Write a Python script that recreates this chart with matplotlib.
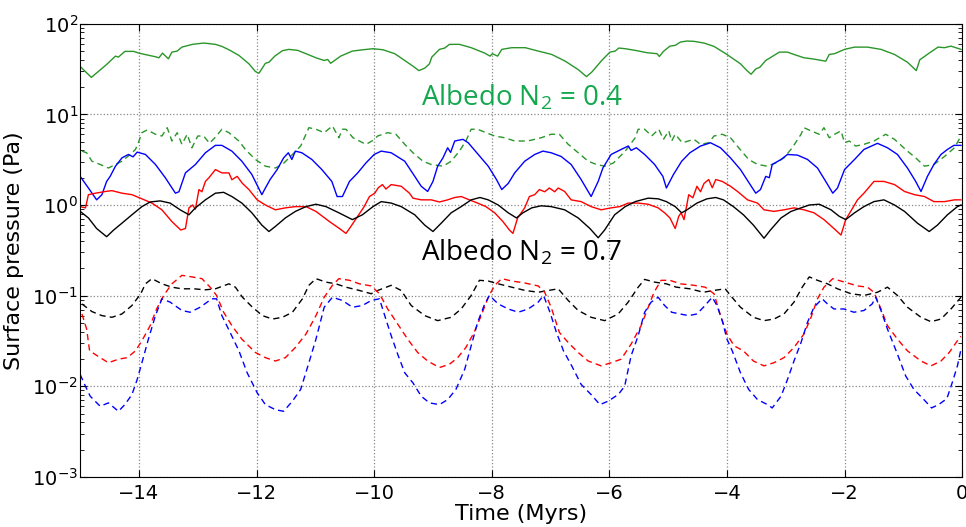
import matplotlib
matplotlib.use('Agg')
import matplotlib.pyplot as plt
from matplotlib.ticker import LogLocator

# Albedo N2 = 0.4 (upper set)
t_green_solid = [-15.0, -14.81, -14.57, -14.40, -14.35, -14.24, -14.09, -14.0, -13.9, -13.72, -13.66, -13.60,
                 -13.50, -13.44, -13.35, -13.27, -13.09, -12.90, -12.70, -12.59, -12.47, -12.30, -12.13, -12.02,
                 -11.96, -11.85, -11.79, -11.69, -11.56, -11.45, -11.30, -11.16, -10.99, -10.85, -10.79, -10.74,
                 -10.57, -10.37, -10.19, -10.02, -9.85, -9.65, -9.48, -9.34, -9.24, -9.14, -9.06, -9.02, -8.89,
                 -8.80, -8.72, -8.55, -8.35, -8.12, -8.03, -7.99, -7.90, -7.83, -7.66, -7.43, -7.21, -6.98, -6.75,
                 -6.53, -6.39, -6.30, -6.13, -5.99, -5.90, -5.84, -5.73, -5.56, -5.36, -5.19, -5.15, -5.08, -4.97,
                 -4.88, -4.79, -4.68, -4.56, -4.39, -4.22, -4.0, -3.77, -3.66, -3.59, -3.51, -3.44, -3.34, -3.20,
                 -3.11, -2.97, -2.86, -2.69, -2.52, -2.32, -2.26, -2.17, -2.0, -1.83, -1.61, -1.38, -1.15, -0.93,
                 -0.78, -0.72, -0.55, -0.41, -0.30, -0.19, -0.02]
p_green_solid = [33.7, 25.6, 34.6, 43.9, 42.8, 49.5, 49.5, 47.4, 45.8, 43.2, 42.1, 47.4,
                 41.0, 48.6, 49.9, 55.2, 59.2, 61.2, 59.2, 56.2, 51.6, 44.7, 36.1, 29.7,
                 28.4, 36.6, 37.6, 43.9, 50.4, 52.1, 50.8, 46.7, 42.1, 39.3, 40.3, 36.6,
                 43.9, 49.9, 51.6, 53.0, 51.6, 46.7, 39.3, 34.0, 30.4, 32.3, 36.1, 42.8, 52.1,
                 53.9, 59.2, 59.2, 54.4, 47.4, 43.9, 46.7, 43.9, 52.1, 54.4, 54.4, 49.9, 45.8, 38.6,
                 31.2, 26.1, 29.2, 39.3, 48.6, 49.9, 53.9, 53.0, 50.8, 47.9, 46.7, 43.5, 49.5, 56.6,
                 57.7, 62.8, 64.4, 63.9, 61.2, 56.2, 45.8, 36.1, 30.4, 27.7, 31.7, 33.1, 39.3, 44.7,
                 48.6, 48.6, 45.8, 42.1, 40.7, 38.6, 45.8, 46.7, 52.1, 55.2, 55.2, 52.1, 45.8, 37.6,
                 30.4, 40.0, 47.9, 55.2, 54.4, 56.6, 52.1]

t_green_dash = [-14.97, -14.89, -14.80, -14.66, -14.52, -14.40, -14.29, -14.15, -14.06, -14.0, -13.95, -13.86,
                -13.72, -13.61, -13.52, -13.44, -13.35, -13.27, -13.18, -13.10, -13.00, -12.90, -12.80, -12.70,
                -12.59, -12.47, -12.30, -12.19, -12.02, -11.85, -11.68, -11.56, -11.39, -11.25, -11.11, -10.99,
                -10.85, -10.71, -10.60, -10.54, -10.48, -10.36, -10.14, -10.02, -9.94, -9.77, -9.63, -9.48,
                -9.34, -9.17, -9.03, -8.83, -8.69, -8.55, -8.44, -8.35, -8.24, -8.10, -7.95, -7.78, -7.61,
                -7.39, -7.16, -6.99, -6.85, -6.70, -6.53, -6.36, -6.22, -6.08, -5.93, -5.73, -5.56, -5.51,
                -5.40, -5.28, -5.16, -5.08, -4.99, -4.94, -4.88, -4.76, -4.56, -4.45, -4.31, -4.22, -4.08,
                -3.94, -3.80, -3.63, -3.48, -3.31, -3.17, -3.03, -2.89, -2.74, -2.69, -2.57, -2.43, -2.35,
                -2.26, -2.17, -2.06, -2.00, -1.92, -1.81, -1.67, -1.50, -1.30, -1.15, -0.93, -0.79, -0.64,
                -0.48, -0.30, -0.13, -0.02]
p_green_dash = [3.93, 3.77, 3.04, 2.80, 2.56, 2.80, 3.04, 3.61, 4.10, 5.08, 6.28, 6.73,
                6.03, 5.77, 7.13, 5.08, 6.28, 4.67, 6.03, 4.28, 5.77, 5.77, 4.80, 5.6,
                6.85, 6.28, 5.08, 4.10, 3.18, 2.68, 2.56, 2.80, 3.61, 4.47, 7.13, 6.85,
                6.28, 7.45, 5.52, 6.85, 6.85, 5.52, 4.67, 5.16, 5.77, 6.28, 6.03, 4.67,
                3.77, 3.04, 2.80, 2.68, 3.04, 3.93, 5.08, 6.85, 6.85, 6.28, 5.77, 5.52, 5.08,
                5.08, 5.52, 6.03, 6.03, 4.67, 3.77, 3.04, 2.80, 2.68, 2.91, 3.93, 5.52, 6.85,
                6.85, 5.77, 6.85, 5.30, 6.57, 5.08, 6.03, 4.86, 5.30, 4.67, 4.86, 5.77, 6.03,
                5.52, 4.28, 3.18, 2.80, 2.68, 2.91, 3.31, 4.28, 6.03, 7.13, 6.57, 6.03, 7.13,
                5.52, 6.03, 6.57, 4.86, 5.08, 4.47, 4.67, 5.08, 6.03, 5.30, 3.93, 3.31, 2.68,
                2.80, 3.43, 4.28, 5.77]

t_blue_solid = [-15.0, -14.86, -14.72, -14.63, -14.55, -14.49, -14.40, -14.29, -14.18, -14.10, -14.03, -13.89,
                -13.72, -13.55, -13.38, -13.32, -13.21, -13.04, -12.87, -12.70, -12.59, -12.42, -12.25, -12.08,
                -11.91, -11.85, -11.77, -11.65, -11.54, -11.46, -11.40, -11.34, -11.23, -11.06, -10.89, -10.72,
                -10.63, -10.54, -10.42, -10.28, -10.14, -10.0, -9.88, -9.71, -9.48, -9.31, -9.20, -9.09, -9.00,
                -8.92, -8.83, -8.75, -8.70, -8.63, -8.49, -8.40, -8.23, -8.06, -7.92, -7.83, -7.72, -7.61,
                -7.44, -7.27, -7.13, -6.99, -6.82, -6.65, -6.48, -6.31, -6.19, -6.11, -5.97, -5.80, -5.68,
                -5.63, -5.54, -5.40, -5.23, -5.09, -5.03, -4.91, -4.77, -4.63, -4.45, -4.28, -4.11, -3.94,
                -3.77, -3.60, -3.51, -3.43, -3.34, -3.28, -3.23, -3.08, -2.97, -2.80, -2.63, -2.46, -2.32,
                -2.20, -2.12, -2.00, -1.83, -1.67, -1.44, -1.27, -1.10, -0.93, -0.79, -0.70, -0.59, -0.48,
                -0.36, -0.25, -0.14, -0.02]
p_blue_solid = [2.07, 1.54, 1.14, 1.30, 1.82, 2.07, 2.68, 3.31, 3.61, 3.40, 3.83, 3.61,
                2.80, 1.99, 1.35, 1.40, 2.26, 2.80, 3.77, 4.55, 4.55, 3.93, 3.04, 2.17,
                1.30, 1.54, 1.91, 2.46, 3.31, 3.77, 3.18, 3.93, 3.77, 3.18, 2.46, 1.82,
                1.24, 1.24, 1.82, 2.26, 2.91, 3.61, 3.93, 3.77, 3.04, 2.07, 1.61, 1.41, 1.82,
                2.68, 3.31, 4.28, 3.80, 5.08, 5.30, 4.86, 3.61, 2.68, 1.91, 1.48, 1.73, 2.26,
                3.04, 3.61, 3.93, 3.77, 3.43, 2.80, 1.91, 1.24, 1.82, 2.56, 3.61, 4.10, 4.47,
                4.00, 4.28, 3.61, 2.80, 2.07, 1.54, 2.17, 3.04, 3.77, 4.47, 4.86, 4.28, 3.31,
                2.46, 1.66, 1.35, 1.48, 2.07, 2.00, 2.80, 3.18, 3.61, 3.55, 3.18, 2.56, 1.82,
                1.35, 1.54, 2.46, 3.18, 4.10, 4.79, 4.28, 3.61, 2.56, 1.82, 1.41, 2.07, 2.80,
                3.61, 4.10, 4.55, 4.55]

t_red_solid = [-15.0, -14.91, -14.86, -14.74, -14.57, -14.46, -14.29, -14.12, -13.95, -13.78, -13.61, -13.44,
               -13.29, -13.21, -13.15, -13.09, -13.04, -12.98, -12.93, -12.87, -12.81, -12.70, -12.59, -12.47,
               -12.42, -12.33, -12.24, -12.13, -11.99, -11.85, -11.68, -11.51, -11.34, -11.16, -10.99, -10.76,
               -10.59, -10.48, -10.42, -10.28, -10.17, -10.08, -9.99, -9.93, -9.86, -9.80, -9.71, -9.54, -9.40,
               -9.34, -9.20, -9.03, -8.89, -8.75, -8.63, -8.52, -8.38, -8.24, -8.10, -7.95, -7.81, -7.70,
               -7.64, -7.56, -7.44, -7.36, -7.27, -7.19, -7.10, -7.02, -6.93, -6.87, -6.76, -6.65, -6.48,
               -6.31, -6.14, -5.97, -5.82, -5.68, -5.51, -5.34, -5.17, -5.06, -4.97, -4.88, -4.82, -4.78,
               -4.73, -4.65, -4.58, -4.51, -4.45, -4.39, -4.31, -4.25, -4.19, -4.08, -3.94, -3.82, -3.65,
               -3.48, -3.37, -3.20, -3.03, -2.86, -2.69, -2.52, -2.35, -2.18, -2.06, -1.98, -1.86, -1.78,
               -1.67, -1.50, -1.33, -1.15, -0.98, -0.81, -0.64, -0.48, -0.30, -0.13, -0.02]
p_red_solid = [0.96, 0.93, 1.30, 1.35, 1.41, 1.44, 1.35, 1.30, 1.17, 1.05, 0.885, 0.656,
               0.53, 0.55, 0.93, 1.0, 0.90, 1.48, 1.40, 1.82, 2.0, 2.46, 2.26, 2.26,
               1.90, 2.07, 1.73, 1.48, 1.14, 1.0, 0.885, 0.93, 0.96, 0.96, 0.85, 0.656,
               0.55, 0.486, 0.55, 0.75, 0.96, 1.24, 1.35, 1.55, 1.68, 1.50, 1.68, 1.61, 1.35,
               1.19, 1.14, 1.14, 1.08, 1.14, 1.21, 1.24, 1.14, 1.05, 0.96, 0.82, 0.656, 0.53,
               0.486, 0.72, 0.93, 1.24, 1.30, 1.48, 1.40, 1.54, 1.40, 1.54, 1.41, 1.14, 1.09,
               0.96, 0.885, 0.93, 0.96, 1.05, 1.05, 1.02, 0.93, 0.82, 0.72, 0.55, 0.75, 0.82,
               0.69, 1.30, 1.20, 1.61, 1.40, 1.73, 1.91, 1.55, 1.91, 1.82, 1.61, 1.41, 1.14,
               1.05, 0.885, 0.85, 0.885, 0.93, 0.885, 0.82, 0.69, 0.55, 0.466, 0.69, 0.93, 1.14,
               1.35, 1.82, 1.82, 1.68, 1.41, 1.30, 1.24, 1.09, 1.09, 1.14, 1.14]

t_black_solid = [-15.0, -14.86, -14.72, -14.55, -14.43, -14.29, -14.12, -13.95, -13.81, -13.64, -13.47, -13.30,
                 -13.15, -13.04, -12.87, -12.70, -12.56, -12.42, -12.25, -12.08, -11.91, -11.79, -11.68, -11.51,
                 -11.34, -11.16, -10.99, -10.82, -10.60, -10.37, -10.20, -10.02, -9.88, -9.71, -9.54, -9.31,
                 -9.14, -9.00, -8.86, -8.69, -8.52, -8.35, -8.20, -8.06, -7.89, -7.72, -7.58, -7.47, -7.32,
                 -7.16, -6.99, -6.76, -6.53, -6.33, -6.19, -6.08, -5.91, -5.73, -5.56, -5.34, -5.17, -5.03,
                 -4.88, -4.77, -4.68, -4.51, -4.34, -4.19, -4.06, -3.89, -3.72, -3.55, -3.37, -3.26, -3.08,
                 -2.91, -2.74, -2.60, -2.43, -2.23, -2.09, -1.98, -1.83, -1.67, -1.50, -1.33, -1.15, -0.98,
                 -0.76, -0.56, -0.42, -0.25, -0.08, -0.02]
p_black_solid = [0.85, 0.72, 0.55, 0.447, 0.53, 0.63, 0.78, 0.96, 1.08, 1.11, 1.05, 0.885,
                 0.78, 0.93, 1.14, 1.35, 1.38, 1.24, 1.05, 0.82, 0.60, 0.51, 0.58, 0.72,
                 0.85, 0.96, 1.02, 0.96, 0.82, 0.69, 0.78, 0.96, 1.09, 1.05, 0.96, 0.78,
                 0.60, 0.51, 0.63, 0.82, 0.96, 1.14, 1.21, 1.14, 1.0, 0.82, 0.72, 0.82, 0.93,
                 0.98, 0.96, 0.885, 0.72, 0.55, 0.435, 0.53, 0.78, 0.96, 1.09, 1.19, 1.17, 1.09,
                 0.96, 0.82, 0.885, 1.05, 1.17, 1.21, 1.14, 0.96, 0.78, 0.60, 0.43, 0.53, 0.72,
                 0.85, 0.93, 1.0, 1.02, 0.885, 0.75, 0.69, 0.82, 0.96, 1.09, 1.14, 1.0, 0.85,
                 0.63, 0.51, 0.60, 0.78, 0.96, 1.0]

# Albedo N2 = 0.7 (lower set)
t_black_dash = [-14.97, -14.80, -14.63, -14.46, -14.29, -14.12, -13.97, -13.89, -13.78, -13.61, -13.44, -13.27,
                -13.07, -12.87, -12.70, -12.47, -12.36, -12.24, -12.07, -11.90, -11.73, -11.56, -11.39, -11.22,
                -11.11, -10.99, -10.82, -10.65, -10.48, -10.25, -10.05, -9.94, -9.71, -9.54, -9.37, -9.14,
                -8.92, -8.69, -8.52, -8.35, -8.21, -8.06, -7.89, -7.66, -7.43, -7.21, -7.04, -6.87, -6.70,
                -6.53, -6.31, -6.08, -5.85, -5.68, -5.51, -5.40, -5.23, -5.03, -4.86, -4.63, -4.40, -4.23,
                -4.03, -3.94, -3.77, -3.55, -3.37, -3.20, -3.03, -2.86, -2.72, -2.60, -2.46, -2.29, -2.12,
                -1.89, -1.67, -1.44, -1.27, -1.10, -0.93, -0.70, -0.53, -0.36, -0.19, -0.02]
p_black_dash = [0.081, 0.0667, 0.0602, 0.0577, 0.0628, 0.0778, 0.105, 0.135, 0.154, 0.135, 0.124, 0.119,
                0.119, 0.116, 0.119, 0.135, 0.124, 0.096, 0.0745, 0.0602, 0.0552, 0.0577, 0.0656, 0.0923,
                0.130, 0.154, 0.141, 0.135, 0.124, 0.114, 0.105, 0.114, 0.130, 0.114, 0.0778, 0.0602,
                0.053, 0.0577, 0.0713, 0.1005, 0.1476, 0.145, 0.135, 0.124, 0.114, 0.109, 0.114, 0.119, 0.0885,
                0.0686, 0.0577, 0.053, 0.0628, 0.0848, 0.124, 0.151, 0.141, 0.135, 0.124, 0.119, 0.109, 0.114,
                0.119, 0.1005, 0.0745, 0.0577, 0.053, 0.0552, 0.0628, 0.0848, 0.124, 0.161, 0.1476, 0.135, 0.119,
                0.105, 0.1005, 0.109, 0.124, 0.1005, 0.0745, 0.0577, 0.0516, 0.0552, 0.0713, 0.096]

t_red_dash = [-14.97, -14.89, -14.84, -14.66, -14.52, -14.35, -14.20, -14.06, -13.95, -13.81, -13.70, -13.58,
              -13.44, -13.27, -13.10, -12.93, -12.79, -12.68, -12.56, -12.42, -12.25, -12.02, -11.85, -11.68,
              -11.51, -11.34, -11.16, -10.99, -10.85, -10.71, -10.60, -10.42, -10.25, -10.05, -9.91, -9.77,
              -9.60, -9.43, -9.26, -9.09, -8.89, -8.72, -8.58, -8.44, -8.30, -8.18, -8.06, -7.95, -7.83,
              -7.66, -7.44, -7.21, -7.10, -6.99, -6.85, -6.70, -6.53, -6.36, -6.14, -5.97, -5.80, -5.63,
              -5.46, -5.35, -5.24, -5.12, -4.97, -4.79, -4.56, -4.37, -4.22, -4.11, -4.00, -3.88, -3.72,
              -3.55, -3.37, -3.20, -3.03, -2.86, -2.69, -2.57, -2.46, -2.35, -2.20, -2.00, -1.78, -1.61,
              -1.50, -1.38, -1.27, -1.10, -0.93, -0.70, -0.53, -0.36, -0.22, -0.08, -0.02]
p_red_dash = [0.0628, 0.0428, 0.0246, 0.0207, 0.0182, 0.0199, 0.0207, 0.0246, 0.0318, 0.0467, 0.0713, 0.1005,
              0.135, 0.1675, 0.161, 0.154, 0.124, 0.1005, 0.0656, 0.0467, 0.0331, 0.0236, 0.0207, 0.019,
              0.0207, 0.0268, 0.0377, 0.0602, 0.096, 0.130, 0.154, 0.1476, 0.135, 0.128, 0.105, 0.0713,
              0.0486, 0.0331, 0.0236, 0.019, 0.0161, 0.0175, 0.0207, 0.0268, 0.0393, 0.0602, 0.096, 0.130, 0.154,
              0.145, 0.138, 0.128, 0.109, 0.0745, 0.0393, 0.0304, 0.0236, 0.019, 0.0168, 0.0182, 0.0199, 0.0292,
              0.0467, 0.0713, 0.109, 0.1476, 0.1476, 0.135, 0.130, 0.124, 0.105, 0.0602, 0.0377, 0.028, 0.0246,
              0.019, 0.0168, 0.0182, 0.0207, 0.0268, 0.0377, 0.0577, 0.0923, 0.124, 0.154, 0.141, 0.128, 0.124,
              0.109, 0.0713, 0.0467, 0.0331, 0.0246, 0.019, 0.0168, 0.019, 0.0236, 0.0318, 0.0356]

t_blue_dash = [-15.0, -14.91, -14.83, -14.66, -14.52, -14.35, -14.24, -14.12, -14.03, -13.95, -13.84, -13.72,
               -13.61, -13.47, -13.27, -13.13, -12.96, -12.76, -12.68, -12.59, -12.45, -12.30, -12.16, -11.99,
               -11.85, -11.68, -11.54, -11.39, -11.25, -11.11, -10.99, -10.85, -10.71, -10.54, -10.37, -10.20,
               -10.05, -9.91, -9.82, -9.71, -9.60, -9.48, -9.34, -9.20, -9.06, -8.89, -8.75, -8.61, -8.46,
               -8.35, -8.24, -8.13, -8.04, -7.89, -7.72, -7.55, -7.38, -7.21, -7.12, -7.01, -6.90, -6.78,
               -6.64, -6.48, -6.31, -6.16, -6.02, -5.85, -5.74, -5.63, -5.51, -5.40, -5.29, -5.17, -5.06,
               -4.94, -4.80, -4.65, -4.51, -4.40, -4.25, -4.17, -4.08, -4.00, -3.91, -3.77, -3.63, -3.48,
               -3.31, -3.23, -3.08, -2.97, -2.86, -2.74, -2.63, -2.52, -2.38, -2.29, -2.18, -2.01, -1.84,
               -1.67, -1.53, -1.47, -1.38, -1.27, -1.10, -0.96, -0.82, -0.65, -0.52, -0.40, -0.26, -0.17,
               -0.08, -0.02]
p_blue_dash = [0.0135, 0.0100, 0.00778, 0.00602, 0.00656, 0.0053, 0.00628, 0.0081, 0.0119, 0.0182, 0.0331, 0.0602,
               0.0923, 0.0848, 0.0686, 0.0656, 0.0745, 0.0923, 0.0923, 0.0602, 0.0393, 0.0246, 0.0141, 0.00848,
               0.00628, 0.00552, 0.0053, 0.00686, 0.00923, 0.0182, 0.0331, 0.0745, 0.096, 0.0885, 0.0745, 0.0778,
               0.0885, 0.0923, 0.0602, 0.0361, 0.0226, 0.0141, 0.0109, 0.00778, 0.00656, 0.00628, 0.00713, 0.00923, 0.0154,
               0.028, 0.0508, 0.0778, 0.1005, 0.081, 0.0713, 0.0656, 0.0713, 0.0848, 0.1005, 0.0656, 0.0393, 0.0246,
               0.0168, 0.0105, 0.0081, 0.00628, 0.00686, 0.0081, 0.0100, 0.0217, 0.0361, 0.0656, 0.0848, 0.096, 0.0778,
               0.0656, 0.0628, 0.0602, 0.0628, 0.0745, 0.096, 0.0778, 0.053, 0.0331, 0.0246, 0.0141, 0.00923, 0.00713,
               0.00628, 0.00577, 0.00778, 0.0119, 0.019, 0.0304, 0.0508, 0.0745, 0.0923, 0.081, 0.0713, 0.0713, 0.0656,
               0.0686, 0.081, 0.096, 0.0686, 0.0428, 0.0226, 0.0130, 0.00923, 0.00713, 0.00577, 0.00628, 0.0073, 0.0109,
               0.0168, 0.0256]

fig = plt.figure(figsize=(9.66, 5.27), dpi=100)
ax = fig.add_axes([0.083, 0.095, 0.913, 0.860])

dash = (4.5, 3)
ax.plot(t_green_solid, p_green_solid, color='#2a962a', lw=1.0)
ax.plot(t_green_dash, p_green_dash, color='#2a962a', lw=1.0, dashes=dash)
ax.plot(t_blue_solid, p_blue_solid, color='#0000ff', lw=1.0)
ax.plot(t_red_solid, p_red_solid, color='#ff0000', lw=1.0)
ax.plot(t_black_solid, p_black_solid, color='k', lw=1.0)
ax.plot(t_black_dash, p_black_dash, color='k', lw=1.0, dashes=dash)
ax.plot(t_red_dash, p_red_dash, color='#ff0000', lw=1.0, dashes=dash)
ax.plot(t_blue_dash, p_blue_dash, color='#0000ff', lw=1.0, dashes=dash)

ax.set_yscale('log')
ax.set_xlim(-15, 0)
ax.set_ylim(1e-3, 1e2)
ax.set_xticks([-14, -12, -10, -8, -6, -4, -2, 0])
ax.yaxis.set_minor_locator(LogLocator(base=10, subs=range(2, 10), numticks=20))
ax.tick_params(which='both', direction='in', top=True, right=True, labelsize=14)
ax.tick_params(which='major', length=5)
ax.tick_params(which='minor', length=3)
ax.tick_params(axis='x', which='major', pad=5)
ax.tick_params(axis='y', which='major', pad=1.5)
ax.grid(True, which='major', color='#888888', linestyle=':', linewidth=0.9)

ax.set_xlabel('Time (Myrs)', fontsize=16, labelpad=1)
ax.set_ylabel('Surface pressure (Pa)', fontsize=16, labelpad=6)

ax.text(0.387, 0.836, r'Albedo $\mathregular{N_2}$ = 0.4', transform=ax.transAxes,
        fontsize=20, color='#14a84e', family='Open Sans', va='center')
ax.text(0.387, 0.494, r'Albedo $\mathregular{N_2}$ = 0.7', transform=ax.transAxes,
        fontsize=20, color='k', family='Open Sans', va='center')

fig.savefig('out.png', dpi=100)
